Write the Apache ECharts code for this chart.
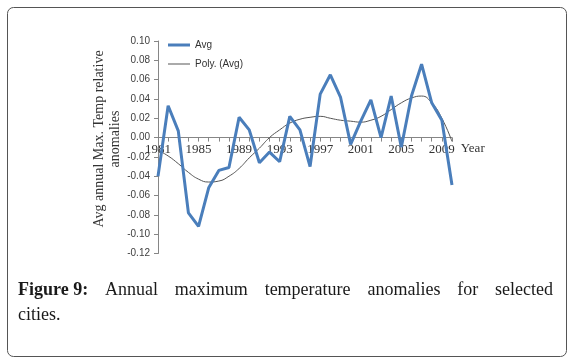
<!DOCTYPE html>
<html><head><meta charset="utf-8">
<script src="https://cdn.jsdelivr.net/npm/echarts@6/dist/echarts.min.js"></script>
<style>html,body{margin:0;padding:0;background:#fff}#c{width:574px;height:363px}</style>
</head><body><div id="c"></div>
<script>
const years = ['1981','1982','1983','1984','1985','1986','1987','1988','1989','1990','1991','1992','1993','1994','1995','1996','1997','1998','1999','2000','2001','2002','2003','2004','2005','2006','2007','2008','2009','2010'];
const avg = [-0.040,0.033,0.007,-0.078,-0.092,-0.052,-0.034,-0.031,0.021,0.008,-0.026,-0.015,-0.025,0.022,0.008,-0.030,0.045,0.065,0.042,-0.007,0.017,0.039,0.000,0.043,-0.010,0.043,0.076,0.036,0.018,-0.049];
const poly = [-0.013,-0.019,-0.027,-0.036,-0.043,-0.046,-0.045,-0.040,-0.032,-0.021,-0.011,0.000,0.008,0.015,0.019,0.021,0.022,0.020,0.018,0.017,0.016,0.018,0.022,0.029,0.036,0.041,0.043,0.036,0.020,-0.004];
const yMin = -0.12, yMax = 0.10, yStep = 0.02;
const yTitle = 'Avg annual Max. Temp relative\nanomalies';
const xTitle = 'Year';
const captionBold = 'Figure 9:';
const captionLine1 = 'Annual maximum temperature anomalies for selected';
const captionLine2 = 'cities.';

const chart = echarts.init(document.getElementById('c'), null, {renderer:'canvas'});
const serif = '"Liberation Serif","DejaVu Serif",serif';
const sans = '"Liberation Sans","DejaVu Sans",sans-serif';
const capSize = 18;

const gridTop = 41, gridBottom = 109.5, H = 363;
const plotH = H - gridTop - gridBottom;
const zeroOffset = plotH * (0 - yMin) / (yMax - yMin);

// justified caption line 1
const cv = document.createElement('canvas').getContext('2d');
const words = [{t:captionBold, b:true}].concat(captionLine1.split(' ').map(w=>({t:w,b:false})));
let total = 0;
words.forEach(w=>{cv.font=(w.b?'bold ':'')+capSize+'px '+serif; w.w=cv.measureText(w.t).width; total+=w.w;});
const L=18, R=553;
const gap=(R-L-total)/(words.length-1);
let xx=L;
const capEls=[];
words.forEach(w=>{
  capEls.push({type:'text',x:xx,y:290,style:{text:w.t,font:(w.b?'bold ':'')+capSize+'px '+serif,fill:'#1a1a1a',textVerticalAlign:'middle',textAlign:'left'}});
  xx+=w.w+gap;
});
capEls.push({type:'text',x:L,y:315,style:{text:captionLine2,font:capSize+'px '+serif,fill:'#1a1a1a',textVerticalAlign:'middle',textAlign:'left'}});

chart.setOption({
  animation:false,
  backgroundColor:'#fff',
  grid:{left:158,right:122,top:gridTop,bottom:gridBottom,containLabel:false},
  legend:[
    {orient:'vertical',left:163,top:35,itemWidth:22,itemHeight:3,icon:'rect',
     data:['Avg'],textStyle:{fontFamily:sans,fontSize:10,color:'#333'}},
    {orient:'vertical',left:163,top:54,itemWidth:22,itemHeight:1,icon:'rect',
     data:['Poly. (Avg)'],textStyle:{fontFamily:sans,fontSize:10,color:'#333'}}
  ],
  xAxis:{type:'category',data:years,boundaryGap:false,
    position:'bottom',offset:-zeroOffset,
    name:xTitle,nameLocation:'end',nameGap:6,
    nameTextStyle:{fontFamily:serif,fontSize:13,color:'#333',verticalAlign:'top',padding:[4,0,0,0]},
    axisLine:{onZero:false,lineStyle:{color:'#868686',width:1}},
    axisTick:{show:true,interval:0,length:4,inside:false,lineStyle:{color:'#868686'}},
    axisLabel:{interval:3,fontFamily:serif,fontSize:13,color:'#333',margin:5},
    splitLine:{show:false}},
  yAxis:{type:'value',min:yMin,max:yMax,interval:yStep,
    axisLine:{show:true,lineStyle:{color:'#868686',width:1}},
    axisTick:{show:true,length:4,lineStyle:{color:'#868686'}},
    axisLabel:{formatter:v=>v.toFixed(2),fontFamily:sans,fontSize:10,color:'#404040',margin:8},
    splitLine:{show:false}},
  series:[
    {name:'Avg',type:'line',data:avg,symbol:'none',lineStyle:{color:'#4a7ebb',width:3},itemStyle:{color:'#4a7ebb'},z:3},
    {name:'Poly. (Avg)',type:'line',data:poly,symbol:'none',smooth:true,lineStyle:{color:'#555',width:1},itemStyle:{color:'#555'},z:2}
  ],
  graphic:[
    {type:'rect',shape:{x:7.5,y:7.5,width:559,height:349,r:6},style:{fill:'none',stroke:'#555',lineWidth:1},silent:true},
    {type:'text',x:107,y:139,rotation:Math.PI/2,style:{text:yTitle,font:'14px '+serif,fill:'#333',textAlign:'center',textVerticalAlign:'middle',lineHeight:16}}
  ].concat(capEls)
});
</script></body></html>
